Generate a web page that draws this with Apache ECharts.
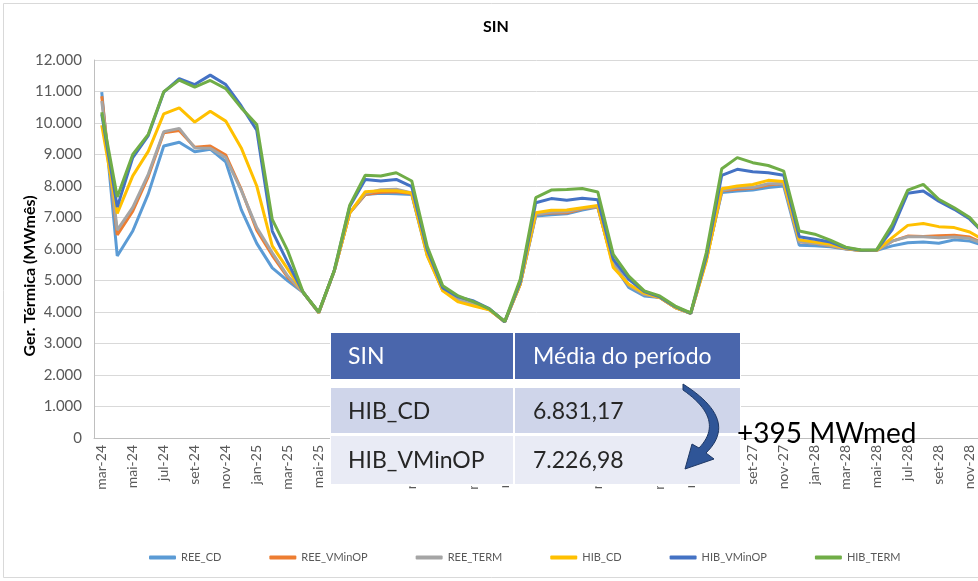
<!DOCTYPE html>
<html><head><meta charset="utf-8">
<script src="https://cdn.jsdelivr.net/npm/echarts@6/dist/echarts.min.js"></script>
<style>html,body{margin:0;padding:0;background:#fff}#c{width:978px;height:581px}</style>
</head><body><div id="c"></div>
<script>
const months = ['mar-24','abr-24','mai-24','jun-24','jul-24','ago-24','set-24','out-24','nov-24','dez-24',
'jan-25','fev-25','mar-25','abr-25','mai-25','jun-25','jul-25','ago-25','set-25','out-25','nov-25','dez-25',
'jan-26','fev-26','mar-26','abr-26','mai-26','jun-26','jul-26','ago-26','set-26','out-26','nov-26','dez-26',
'jan-27','fev-27','mar-27','abr-27','mai-27','jun-27','jul-27','ago-27','set-27','out-27','nov-27','dez-27',
'jan-28','fev-28','mar-28','abr-28','mai-28','jun-28','jul-28','ago-28','set-28','out-28','nov-28','dez-28'];

const REE_CD = [10980,5780,6570,7750,9270,9390,9090,9170,8770,7250,
6180,5400,4990,4620,3980,5300,7150,7730,7770,7750,7730,5800,
4700,4420,4250,4090,3690,4880,7050,7090,7120,7240,7330,5520,
4780,4510,4460,4140,3960,5670,7790,7840,7870,7950,8000,6120,
6100,6070,6000,5950,5960,6100,6200,6220,6180,6290,6250,6100];

const REE_VMinOP = [10850,6450,7200,8300,9690,9760,9230,9270,8980,7890,
6600,5800,5100,4620,3980,5300,7150,7730,7800,7820,7760,5850,
4680,4380,4220,4080,3690,4880,7100,7140,7150,7280,7340,5480,
4850,4560,4460,4140,3960,5650,7850,7900,7930,8030,8080,6230,
6180,6100,6010,5950,5960,6250,6410,6400,6420,6440,6380,6150];

const REE_TERM = [10700,6600,7320,8370,9720,9830,9210,9200,8900,7860,
6680,5880,5140,4620,3980,5300,7150,7760,7880,7900,7780,5850,
4700,4400,4230,4080,3690,4900,7100,7170,7180,7290,7350,5560,
4850,4560,4470,4140,3960,5670,7860,7950,7950,8070,8080,6230,
6180,6110,6010,5950,5960,6250,6390,6390,6360,6380,6330,6150];

const HIB_CD = [9930,7130,8320,9100,10290,10480,10030,10370,10060,9210,
8000,6100,5360,4620,3980,5300,7150,7820,7850,7850,7780,5780,
4670,4320,4190,4070,3690,4880,7150,7230,7240,7310,7380,5410,
4880,4600,4460,4140,3960,5600,7910,8000,8050,8180,8140,6290,
6220,6150,6020,5950,5960,6360,6750,6810,6710,6680,6540,6250];

const HIB_VMinOP = [10280,7330,8900,9600,10980,11410,11220,11520,11220,10540,
9770,6570,5570,4620,3990,5310,7350,8210,8160,8210,7980,5980,
4760,4480,4350,4110,3690,4950,7470,7600,7550,7610,7560,5670,
5040,4650,4480,4170,3960,5750,8340,8530,8450,8420,8340,6390,
6310,6220,6040,5960,5970,6620,7770,7840,7520,7260,6950,6450];

const HIB_TERM = [10340,7650,9000,9640,10990,11360,11140,11350,11090,10480,
9950,6940,5940,4620,4000,5320,7390,8340,8320,8420,8160,6080,
4830,4510,4320,4100,3700,5040,7630,7870,7890,7920,7810,5830,
5140,4670,4510,4190,3970,5880,8550,8900,8740,8650,8470,6570,
6470,6280,6060,5970,5980,6780,7870,8050,7580,7310,7000,6450];

const seriesNames = ['REE_CD','REE_VMinOP','REE_TERM','HIB_CD','HIB_VMinOP','HIB_TERM'];
const seriesData = [REE_CD, REE_VMinOP, REE_TERM, HIB_CD, HIB_VMinOP, HIB_TERM];
const seriesColors = ['#5B9BD5','#ED7D31','#A5A5A5','#FFC000','#4472C4','#70AD47'];

const chartTitle = 'SIN';
const yAxisTitle = 'Ger. Térmica (MWmês)';
const tableHeader = ['SIN','Média do período'];
const tableRowNames = ['HIB_CD','HIB_VMinOP'];
const tableRowValues = ['6.831,17','7.226,98'];
const deltaLabel = '+395 MWmed';

const FONT = 'Lato, "Open Sans", sans-serif';
const fmt = v => String(v).replace(/\B(?=(\d{3})+(?!\d))/g, '.');

const chart = echarts.init(document.getElementById('c'), null, {renderer:'canvas'});

const tableX = [331, 515], tableW = [182, 225];
const rowY = [333, 388, 436], rowH = [46, 45, 48];
const rowFill = ['#4a66ac', '#cfd5ea', '#e9ebf5'];
const tableGraphics = [];
tableGraphics.push({type:'rect', z:100, shape:{x:330, y:331, width:411, height:155}, style:{fill:'#ffffff'}});
for (let r = 0; r < 3; r++) {
  for (let c = 0; c < 2; c++) {
    tableGraphics.push({type:'rect', z:101, shape:{x:tableX[c], y:rowY[r], width:tableW[c], height:rowH[r]}, style:{fill:rowFill[r]}});
  }
}
const cellTexts = [tableHeader, [tableRowNames[0], tableRowValues[0]], [tableRowNames[1], tableRowValues[1]]];
for (let r = 0; r < 3; r++) {
  for (let c = 0; c < 2; c++) {
    tableGraphics.push({type:'text', z:102, x: tableX[c] + (c === 0 ? 17 : 18), y: rowY[r] + rowH[r]/2 + 1,
      style:{text: cellTexts[r][c], fill: r === 0 ? '#ffffff' : '#262626', font: '23px ' + FONT, verticalAlign:'middle', align:'left'}});
  }
}

// curved arrow (decoration) built from quadratic curves
function quad(p0, c, p1, n) {
  const pts = [];
  for (let i = 0; i <= n; i++) {
    const t = i / n, u = 1 - t;
    pts.push([u*u*p0[0] + 2*u*t*c[0] + t*t*p1[0], u*u*p0[1] + 2*u*t*c[1] + t*t*p1[1]]);
  }
  return pts;
}
const arrowPts = [].concat(
  quad([683,384],[740,420],[706,453],24),
  [[714,459],[685,469],[692,444]],
  quad([699,448],[726,420],[683,390],24)
);

chart.setOption({
  animation: false,
  backgroundColor: '#ffffff',
  title: {text: chartTitle, left: 478, top: 14, textStyle:{fontFamily: FONT, fontSize: 16, fontWeight: 'bold', color:'#000'}},
  legend: {
    data: seriesNames, left: 144, top: 547, itemWidth: 27, itemHeight: 4, itemGap: 48, icon: 'roundRect',
    textStyle: {fontFamily: FONT, fontSize: 11, color: '#595959'}
  },
  grid: {left: 94, top: 60, width: 899, height: 378, containLabel: false, outerBoundsMode: 'none'},
  xAxis: {
    type: 'category', data: months, boundaryGap: true,
    axisLine: {lineStyle: {color: '#bfbfbf', width: 1}},
    axisTick: {show: false},
    axisLabel: {rotate: 90, interval: 1, color: '#595959', fontFamily: FONT, fontSize: 14, margin: 7}
  },
  yAxis: {
    type: 'value', min: 0, max: 12000, interval: 1000,
    axisLine: {show: true, lineStyle: {color: '#bfbfbf'}},
    axisTick: {show: false},
    splitLine: {lineStyle: {color: '#d9d9d9', width: 1}},
    axisLabel: {formatter: fmt, color: '#595959', fontFamily: FONT, fontSize: 15, margin: 12}
  },
  series: seriesNames.map((n, i) => ({
    name: n, type: 'line', data: seriesData[i], symbol: 'none', smooth: false,
    lineStyle: {width: 3, color: seriesColors[i]}, itemStyle: {color: seriesColors[i]}
  })),
  graphic: [
    {type:'rect', z:0, shape:{x:3.5, y:3.5, width:1000, height:574}, style:{fill:'none', stroke:'#d9d9d9', lineWidth:1}},
    {type:'text', z:10, x:30, y:276, rotation: Math.PI/2,
      style:{text: yAxisTitle, font:'bold 16px ' + FONT, fill:'#000', align:'center', verticalAlign:'middle'}},
    ...tableGraphics,
    {type:'polygon', z:103, shape:{points: arrowPts}, style:{fill:'#2f5597', stroke:'#1f3864', lineWidth:1}},
    {type:'text', z:104, x:737, y:434, style:{text: deltaLabel, font:'28px ' + FONT, fill:'#000', align:'left', verticalAlign:'middle'}}
  ]
});
</script></body></html>
